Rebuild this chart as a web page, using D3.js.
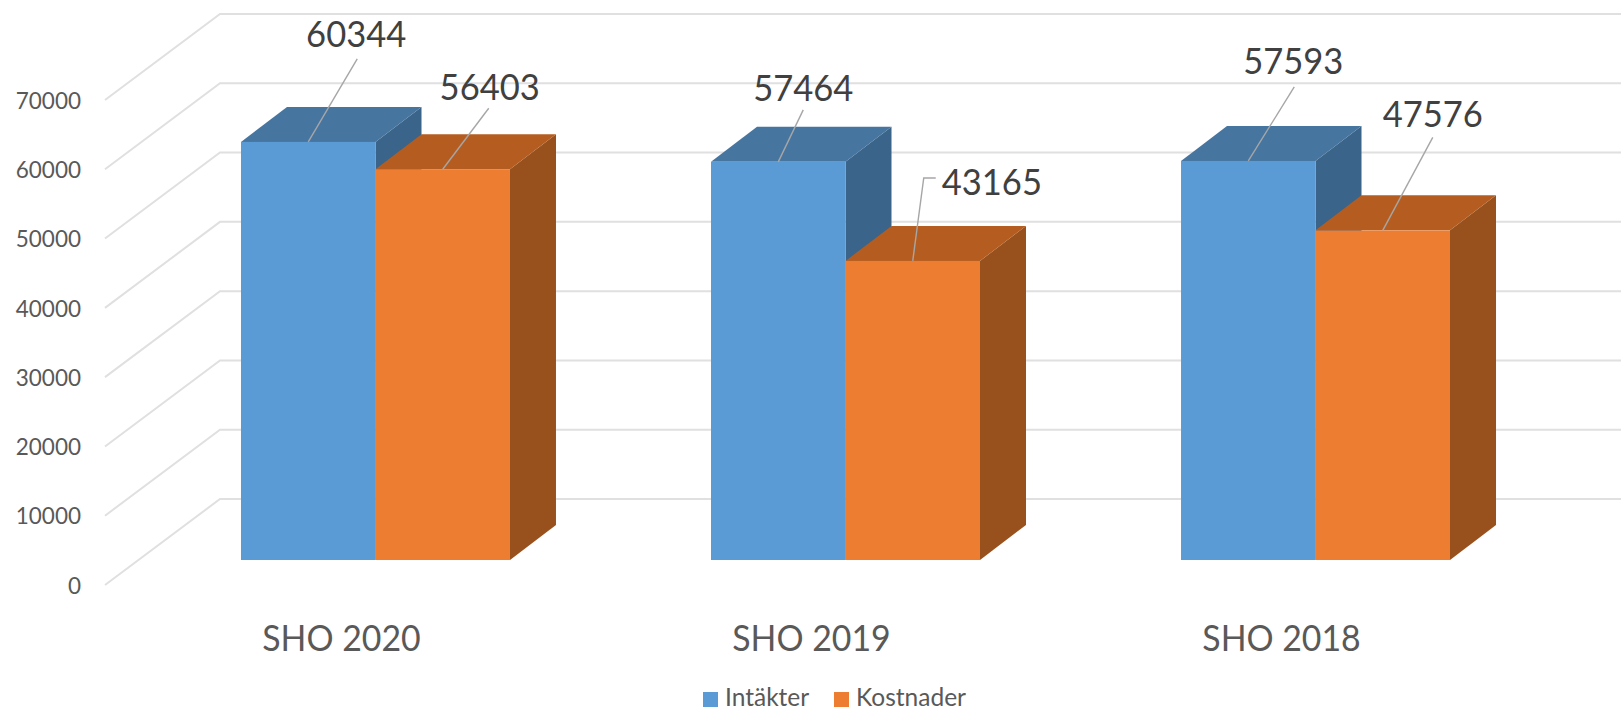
<!DOCTYPE html>
<html><head><meta charset="utf-8">
<script src="https://cdn.jsdelivr.net/npm/d3@7"></script>
<style>html,body{margin:0;padding:0;background:#fff}svg{display:block}text{font-family:Lato,"Open Sans",sans-serif}</style>
</head><body><div id="c"></div>
<script>
const categories = ["SHO 2020","SHO 2019","SHO 2018"];
const seriesNames = ["Intäkter","Kostnader"];
const intakter = [60344,57464,57593];
const kostnader = [56403,43165,47576];
const yTicks = [0,10000,20000,30000,40000,50000,60000,70000];

const W=1621,H=710, base=560, unit=485, dx=46, dy=35;
const colors={Intäkter:{front:"#5B9BD5",top:"#4675A0",side:"#3A6489"},Kostnader:{front:"#ED7D31",top:"#B55D20",side:"#98501C"}};
// label layout: leader-line end points and label anchors relative to the bar's front-top centre
const labelLayout=[
 [{ex:49,ey:-83,tx:48,ty:-95},{ex:46,ey:-61,tx:47,ty:-69}],
 [{ex:25,ey:-52,tx:25,ty:-61},{ex:11,ey:-83,hx:23,tx:29,ty:-66,left:true}],
 [{ex:46,ey:-74,tx:45,ty:-87},{ex:50,ey:-93,tx:50,ty:-103}]
];
const narrow=(sel,k)=>sel.each(function(){this.setAttribute("textLength",this.getComputedTextLength()*k);this.setAttribute("lengthAdjust","spacingAndGlyphs");});

const svg=d3.select("#c").append("svg").attr("width",W).attr("height",H);
const y=d3.scaleLinear().domain([0,70000]).range([base,base-unit]);
const x0=d3.scaleBand().domain(categories).range([140.5,1550.5]).paddingInner(0.4277).paddingOuter(0.2138);
const x1=d3.scaleBand().domain(seriesNames).range([0,x0.bandwidth()]);
const values={Intäkter:intakter,Kostnader:kostnader};

// gridlines: back wall + side wall
const backOff=-61, sideDx=-115, sideDy=86;
const grid=svg.append("g");
yTicks.forEach(v=>{
  const yb=y(v)+backOff;
  grid.append("path").attr("d",`M${220+sideDx},${yb+sideDy}L220,${yb}L${W},${yb}`)
    .attr("fill","none").attr("stroke","#E0E0E0").attr("stroke-width",2);
});

// y axis
const ax=svg.append("g").attr("transform",`translate(81,${backOff+sideDy+1})`)
  .call(d3.axisLeft(y).tickValues(yTicks).tickSize(0).tickPadding(0).tickFormat(d3.format("d")));
ax.select(".domain").remove();
ax.selectAll("text").attr("font-size",22.5).attr("fill","#595959").style("font-family","Lato");

// bars, drawn back-to-front within each group
categories.forEach((c,i)=>{
  const g=svg.append("g").attr("transform",`translate(${x0(c)},0)`);
  seriesNames.forEach(s=>{
    const v=values[s][i], xl=x1(s), w=x1.bandwidth(), t=y(v), col=colors[s];
    g.append("path").attr("fill",col.side).attr("d",`M${xl+w},${t}L${xl+w+dx},${t-dy}L${xl+w+dx},${base-dy}L${xl+w},${base}Z`);
    g.append("path").attr("fill",col.top).attr("d",`M${xl},${t}L${xl+dx},${t-dy}L${xl+w+dx},${t-dy}L${xl+w},${t}Z`);
    g.append("rect").attr("x",xl).attr("y",t).attr("width",w).attr("height",base-t).attr("fill",col.front);
  });
});

// data labels + leader lines
categories.forEach((c,i)=>{
  seriesNames.forEach((s,j)=>{
    const v=values[s][i], cx=x0(c)+x1(s)+x1.bandwidth()/2, t=y(v), L=labelLayout[i][j];
    let d=`M${cx},${t}L${cx+L.ex},${t+L.ey}`;
    if(L.hx) d+=`L${cx+L.hx},${t+L.ey}`;
    svg.append("path").attr("d",d).attr("fill","none").attr("stroke","#A6A6A6").attr("stroke-width",1.4);
    svg.append("text").attr("x",cx+L.tx).attr("y",t+L.ty).attr("text-anchor",L.left?"start":"middle")
      .attr("font-size",36).attr("fill","#404040").text(v).call(narrow,0.96);
  });
});

// category labels
categories.forEach(c=>{
  svg.append("text").attr("x",x0(c)+x0.bandwidth()/2-34).attr("y",651).attr("text-anchor","middle")
    .attr("font-size",36).attr("fill","#595959").text(c).call(narrow,0.94);
});

// legend
const legendX=[703,834];
seriesNames.forEach((s,i)=>{
  svg.append("rect").attr("x",legendX[i]).attr("y",692).attr("width",15).attr("height",15).attr("fill",colors[s].front);
  svg.append("text").attr("x",legendX[i]+22).attr("y",706).attr("font-size",24.5).attr("fill","#595959").text(s);
});
</script></body></html>
